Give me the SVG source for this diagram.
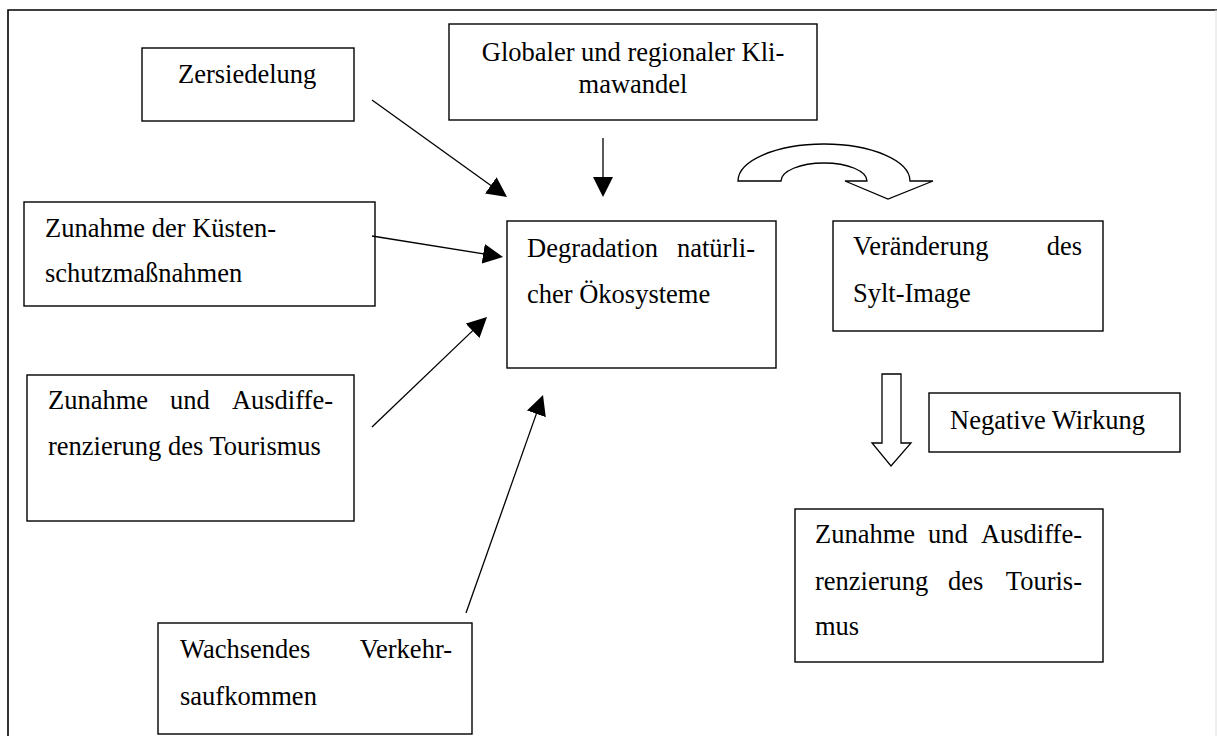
<svg xmlns="http://www.w3.org/2000/svg" width="1217" height="736" viewBox="0 0 1217 736">
  <style>
    .box { fill: #fff; stroke: #000; stroke-width: 1.4; }
    .txt { font-family: "Liberation Serif", "Times New Roman", serif; font-size: 26.5px; fill: #000; }
    .end { text-anchor: end; }
    .mid { text-anchor: middle; }
    .conn { stroke: #000; stroke-width: 1.3; fill: none; marker-end: url(#head); }
    .hollow { fill: #fff; stroke: #000; stroke-width: 1.3; stroke-linejoin: miter; }
  </style>
  <defs>
    <marker id="head" markerUnits="userSpaceOnUse" markerWidth="20" markerHeight="20" refX="10" refY="10" orient="auto">
      <path d="M0,0 L20,10 L0,20 Z" fill="#000"/>
    </marker>
  </defs>

  <rect x="0" y="0" width="1217" height="736" fill="#fff"/>

  <!-- page frame -->
  <g id="frame" fill="none">
    <path d="M8,736 V10 H1217" stroke="#000" stroke-width="1.6"/>
    <line x1="1216" y1="10" x2="1216" y2="736" stroke="#ddd" stroke-width="1"/>
  </g>

  <!-- causes -->
  <g id="zersiedelung">
    <rect class="box" x="142" y="48" width="212" height="73"/>
    <text class="txt" x="178" y="83">Zersiedelung</text>
  </g>

  <g id="klimawandel">
    <rect class="box" x="449" y="24" width="368" height="96"/>
    <text class="txt mid" x="633" y="61">Globaler und regionaler Kli-</text>
    <text class="txt mid" x="633" y="93">mawandel</text>
  </g>

  <g id="kuestenschutz">
    <rect class="box" x="24" y="202" width="351" height="104"/>
    <text class="txt" x="45" y="237">Zunahme der Küsten-</text>
    <text class="txt" x="45" y="282">schutzmaßnahmen</text>
  </g>

  <g id="tourismus-links">
    <rect class="box" x="27" y="375" width="327" height="146"/>
    <text class="txt" x="48" y="409">Zunahme</text>
    <text class="txt" x="170" y="409">und</text>
    <text class="txt end" x="333" y="409">Ausdiffe-</text>
    <text class="txt" x="48" y="455">renzierung des Tourismus</text>
  </g>

  <g id="verkehr">
    <rect class="box" x="158" y="623" width="314" height="111"/>
    <text class="txt" x="180" y="658">Wachsendes</text>
    <text class="txt end" x="452" y="658">Verkehr-</text>
    <text class="txt" x="180" y="705">saufkommen</text>
  </g>

  <!-- centre -->
  <g id="degradation">
    <rect class="box" x="507" y="221" width="269" height="147"/>
    <text class="txt" x="527" y="257">Degradation</text>
    <text class="txt end" x="755" y="257">natürli-</text>
    <text class="txt" x="527" y="303">cher Ökosysteme</text>
  </g>

  <!-- consequences -->
  <g id="sylt-image">
    <rect class="box" x="833" y="221" width="270" height="110"/>
    <text class="txt" x="853" y="255">Veränderung</text>
    <text class="txt end" x="1082" y="255">des</text>
    <text class="txt" x="853" y="302">Sylt-Image</text>
  </g>

  <g id="negative-wirkung">
    <rect class="box" x="929" y="393" width="251" height="59"/>
    <text class="txt" x="950" y="429">Negative Wirkung</text>
  </g>

  <g id="tourismus-rechts">
    <rect class="box" x="795" y="509" width="308" height="153"/>
    <text class="txt" x="815" y="543">Zunahme</text>
    <text class="txt" x="928" y="543">und</text>
    <text class="txt end" x="1082" y="543">Ausdiffe-</text>
    <text class="txt" x="815" y="590">renzierung</text>
    <text class="txt" x="948" y="590">des</text>
    <text class="txt end" x="1082" y="590">Touris-</text>
    <text class="txt" x="815" y="635">mus</text>
  </g>

  <!-- connectors -->
  <g id="connectors">
    <line class="conn" x1="372" y1="100" x2="498.9" y2="191.2"/>
    <line class="conn" x1="603" y1="138" x2="603" y2="187"/>
    <line class="conn" x1="372" y1="236" x2="493.1" y2="255.4"/>
    <line class="conn" x1="372" y1="427" x2="479.8" y2="323.9"/>
    <line class="conn" x1="466" y1="613" x2="539.7" y2="404.4"/>
    <!-- curved block arrow towards the image box -->
    <path class="hollow" d="M738,181 A86,37 0 0 1 910,181 L933,181 L888,199 L845,181 L867,181 A43,18 0 0 0 781,181 Z"/>
    <!-- hollow down arrow -->
    <path class="hollow" d="M882,374 H901 V443 H911 L891,466 L872,443 H882 Z"/>
  </g>
</svg>
